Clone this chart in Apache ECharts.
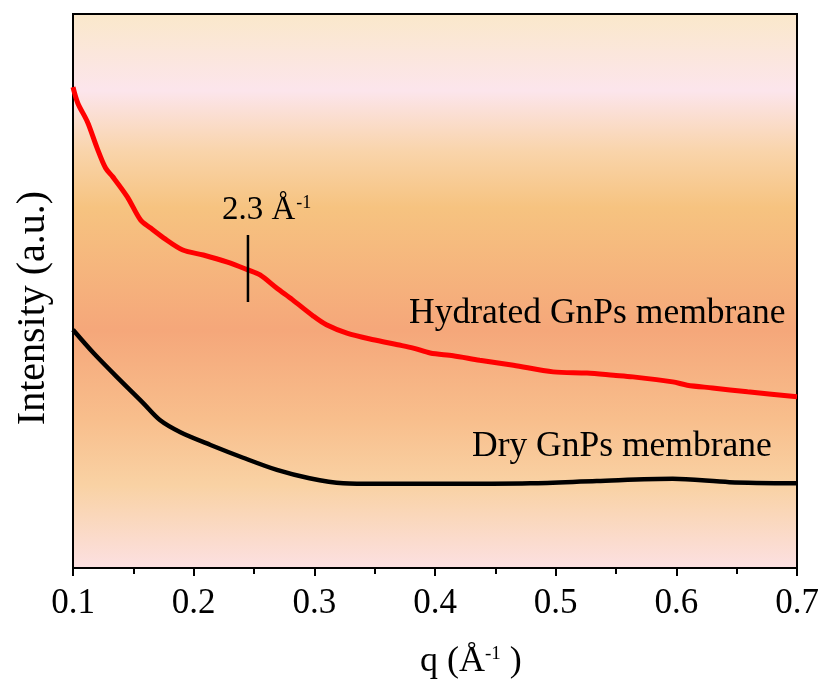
<!DOCTYPE html>
<html>
<head>
<meta charset="utf-8">
<script src="https://cdn.jsdelivr.net/npm/echarts@6/dist/echarts.min.js"></script>
<style>
html,body{margin:0;padding:0;background:#fff;}
#chart{width:826px;height:691px;}
</style>
</head>
<body>
<div id="chart"></div>
<script>
// q (Å^-1) and intensity (a.u.)
const hydratedQ = [0.100,0.104,0.112,0.120,0.127,0.133,0.145,0.156,0.164,0.175,0.191,0.208,0.228,0.245,0.255,0.269,0.282,0.299,0.310,0.327,0.349,0.369,0.382,0.396,0.415,0.437,0.465,0.498,0.526,0.548,0.564,0.597,0.609,0.630,0.659,0.700];
const hydratedI = [86.8,83.9,80.5,75.8,72.2,70.6,67.0,62.8,61.4,59.6,57.4,56.5,55.2,53.8,52.9,50.5,48.4,45.5,43.9,42.4,41.2,40.3,39.7,38.8,38.3,37.5,36.6,35.4,35.2,34.8,34.5,33.6,33.0,32.5,31.8,30.9];
const dryQ = [0.100,0.117,0.139,0.158,0.172,0.189,0.214,0.241,0.269,0.296,0.324,0.352,0.404,0.479,0.534,0.597,0.644,0.700];
const dryI = [43.0,38.8,33.9,29.8,26.7,24.5,22.2,19.9,17.7,16.2,15.3,15.2,15.2,15.3,15.7,16.1,15.5,15.3];
const markerQ = [0.245,0.245];
const markerI = [48.0,60.1];
const xTicks = [0.1,0.2,0.3,0.4,0.5,0.6,0.7];

const zip = (a,b) => a.map((v,i)=>[v,b[i]]);
const serif = '"Liberation Serif","Times New Roman",serif';

const chart = echarts.init(document.getElementById('chart'), null, {renderer:'canvas'});
const bg = new echarts.graphic.LinearGradient(0,0,0,1,[
  {offset:0.00,color:'#FAE8CA'},
  {offset:0.14,color:'#FCE5EC'},
  {offset:0.25,color:'#F9D4AA'},
  {offset:0.35,color:'#F6C380'},
  {offset:0.57,color:'#F5A77A'},
  {offset:0.73,color:'#F8BE8C'},
  {offset:0.85,color:'#F9D2A4'},
  {offset:1.00,color:'#FCE0E2'}
]);

chart.setOption({
  animation:false,
  backgroundColor:'#ffffff',
  grid:{left:73,right:29,top:14,bottom:123,show:true,backgroundColor:bg,borderColor:'#000',borderWidth:2},
  xAxis:{
    type:'value',min:0.1,max:0.7,interval:0.1,
    axisLine:{show:true,lineStyle:{color:'#000',width:2}},
    axisTick:{show:true,inside:false,length:8,lineStyle:{color:'#000',width:2}},
    minorTick:{show:true,splitNumber:2,length:6,lineStyle:{color:'#000',width:2}},
    splitLine:{show:false},
    axisLabel:{color:'#000',fontFamily:serif,fontSize:35,margin:18,
      formatter:v=>{const t=xTicks.find(x=>Math.abs(x-v)<1e-6);return t===undefined?'':t.toFixed(1);}}
  },
  yAxis:{
    type:'value',min:0,max:100,
    axisLine:{show:true,lineStyle:{color:'#000',width:2}},
    axisTick:{show:false},axisLabel:{show:false},splitLine:{show:false}
  },
  series:[
    {type:'line',name:'Hydrated GnPs membrane',data:zip(hydratedQ,hydratedI),showSymbol:false,symbol:'none',smooth:0.3,
      lineStyle:{color:'#FF0000',width:5},z:3},
    {type:'line',name:'Dry GnPs membrane',data:zip(dryQ,dryI),showSymbol:false,symbol:'none',smooth:0.3,
      lineStyle:{color:'#000000',width:4.5},z:3},
    {type:'line',name:'marker',data:zip(markerQ,markerI),showSymbol:false,symbol:'none',
      lineStyle:{color:'#000000',width:2.5},z:4}
  ]
});

const P = (q,v)=>chart.convertToPixel({gridIndex:0},[q,v]);
const a = P(0.245,60.1);
chart.setOption({
  graphic:[
    {type:'text',left:a[0]-26,top:a[1]-41,style:{
      rich:{n:{fontFamily:serif,fontSize:33,fill:'#000'},s:{fontFamily:serif,fontSize:18,fill:'#000',padding:[0,0,14,1]}},
      text:'{n|2.3 Å}{s|-1}'}},
    {type:'text',left:409,top:296,style:{text:'Hydrated GnPs membrane',fontFamily:serif,fontSize:35.5,fill:'#000'}},
    {type:'text',left:472,top:429,style:{text:'Dry GnPs membrane',fontFamily:serif,fontSize:35.5,fill:'#000'}},
    {type:'text',x:33,y:308,rotation:Math.PI/2,style:{text:'Intensity (a.u.)',fontFamily:serif,fontSize:40,fill:'#000',align:'center',verticalAlign:'middle'}},
    {type:'text',left:420,top:644,style:{
      rich:{n:{fontFamily:serif,fontSize:36,fill:'#000'},s:{fontFamily:serif,fontSize:19,fill:'#000',padding:[0,0,16,0]}},
      text:'{n|q (Å}{s|-1}{n| )}'}}
  ]
});
</script>
</body>
</html>
